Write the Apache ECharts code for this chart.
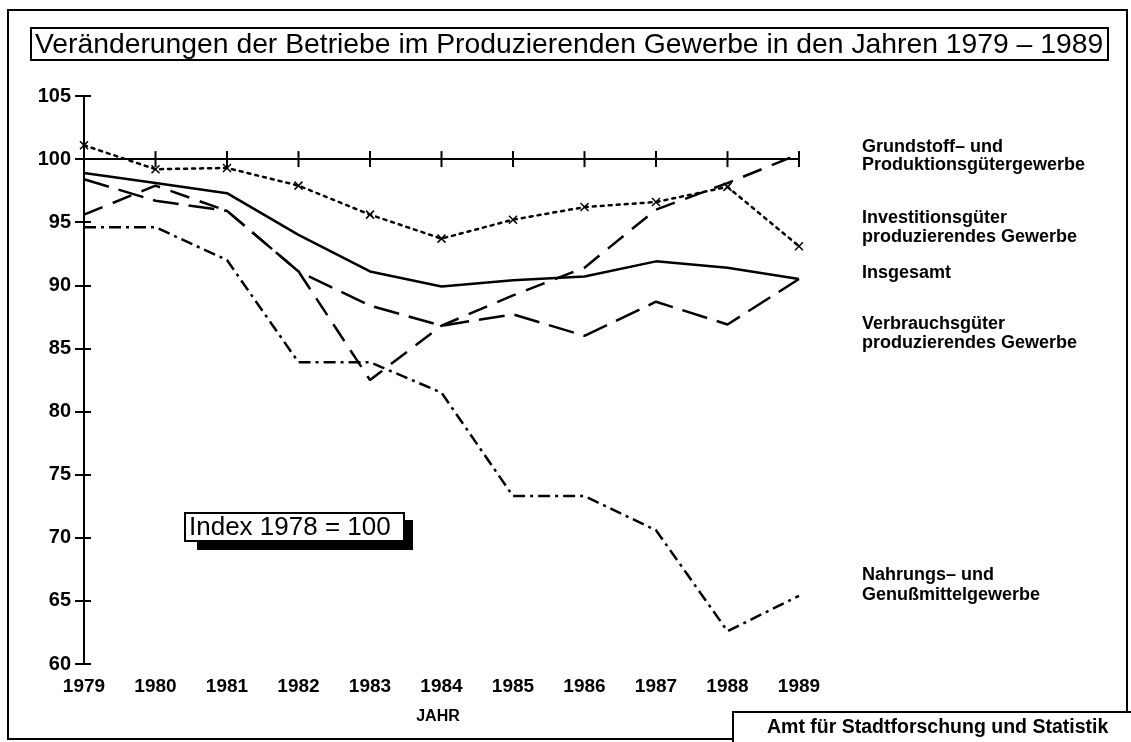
<!DOCTYPE html>
<html>
<head>
<meta charset="utf-8">
<script src="https://cdn.jsdelivr.net/npm/echarts@6/dist/echarts.min.js"></script>
<style>
html,body{margin:0;padding:0;background:#fff;}
#chart{width:1131px;height:742px;}
</style>
</head>
<body>
<div id="chart"></div>
<script>
const years = ['1979','1980','1981','1982','1983','1984','1985','1986','1987','1988','1989'];
const yTicks = { min: 60, max: 105, step: 5 };
const baseline    = [100, 100, 100, 100, 100, 100, 100, 100, 100, 100, 100];
const grundstoff  = [95.6, 97.9, 95.9, 91.1, 82.5, 86.8, 89.2, 91.4, 96.0, 98.1, 100.4];
const investition = [101.1, 99.2, 99.3, 97.9, 95.6, 93.7, 95.2, 96.2, 96.6, 97.8, 93.1];
const insgesamt   = [98.9, 98.1, 97.3, 94.0, 91.1, 89.9, 90.4, 90.7, 91.9, 91.4, 90.5];
const verbrauch   = [98.4, 96.7, 95.9, 91.1, 88.4, 86.8, 87.7, 86.0, 88.7, 86.9, 90.5];
const nahrung     = [94.6, 94.6, 92.0, 83.9, 83.9, 81.5, 73.3, 73.3, 70.6, 62.6, 65.4];

const titleText = 'Veränderungen der Betriebe im Produzierenden Gewerbe in den Jahren 1979 – 1989';
const seriesLabels = [
  ['Grundstoff– und', 147], ['Produktionsgütergewerbe', 165],
  ['Investitionsgüter', 218], ['produzierendes Gewerbe', 237],
  ['Insgesamt', 273],
  ['Verbrauchsgüter', 324], ['produzierendes Gewerbe', 343],
  ['Nahrungs– und', 575], ['Genußmittelgewerbe', 595]
];

const chart = echarts.init(document.getElementById('chart'), null, {renderer: 'canvas'});
const F = 'Liberation Sans, Arial, sans-serif';

const graphics = [
  {type:'rect', shape:{x:8, y:10, width:1119, height:729}, style:{fill:'none', stroke:'#000', lineWidth:2}, z:0},
  {type:'rect', shape:{x:31, y:28, width:1077, height:32}, style:{fill:'#fff', stroke:'#000', lineWidth:2}, z:10},
  {type:'text', style:{text:titleText, x:35, y:45, font:'28.3px ' + F, fill:'#000', textAlign:'left', textVerticalAlign:'middle'}, z:11},
  {type:'rect', shape:{x:197, y:520, width:216, height:30}, style:{fill:'#000'}, z:10},
  {type:'rect', shape:{x:185, y:513, width:219, height:28}, style:{fill:'#fff', stroke:'#000', lineWidth:2}, z:11},
  {type:'text', style:{text:'Index 1978 = 100', x:189, y:528, font:'26px ' + F, fill:'#000', textAlign:'left', textVerticalAlign:'middle'}, z:12},
  {type:'text', style:{text:'JAHR', x:438, y:717, font:'bold 16px ' + F, fill:'#000', textAlign:'center', textVerticalAlign:'middle'}, z:11},
  {type:'rect', shape:{x:733, y:712, width:400, height:32}, style:{fill:'#fff', stroke:'#000', lineWidth:2}, z:10},
  {type:'text', style:{text:'Amt für Stadtforschung und Statistik', x:767, y:728, font:'bold 19.5px ' + F, fill:'#000', textAlign:'left', textVerticalAlign:'middle'}, z:11}
];
seriesLabels.forEach(function(l){
  graphics.push({type:'text', style:{text:l[0], x:862, y:l[1], font:'bold 18px ' + F, fill:'#000', textAlign:'left', textVerticalAlign:'middle'}, z:11});
});

const xMark = 'path://M0,0L10,10M10,0L0,10';

chart.setOption({
  animation: false,
  backgroundColor: '#fff',
  grid: {left: 84, right: 332, top: 96, bottom: 78},
  xAxis: {
    type: 'category', data: years, boundaryGap: false,
    axisLine: {show: false}, axisTick: {show: false}, splitLine: {show: false},
    axisLabel: {margin: 13, fontFamily: F, fontWeight: 'bold', fontSize: 19, color: '#000'}
  },
  yAxis: [{
    type: 'value', min: yTicks.min, max: yTicks.max, interval: yTicks.step,
    axisLine: {show: true, lineStyle: {color: '#000', width: 2}},
    axisTick: {show: true, length: 9, lineStyle: {color: '#000', width: 2}},
    splitLine: {show: false},
    axisLabel: {margin: 13, fontFamily: F, fontWeight: 'bold', fontSize: 20, color: '#000'}
  }, {
    type: 'value', position: 'left', min: yTicks.min, max: yTicks.max, interval: yTicks.step,
    axisLine: {show: false},
    axisTick: {show: true, inside: true, length: 7, lineStyle: {color: '#000', width: 2}},
    splitLine: {show: false}, axisLabel: {show: false}
  }],
  series: [
    {name:'Basis', type:'line', data: baseline, symbol:'rect', symbolSize:[2,16], showSymbol:true,
     itemStyle:{color:'#000'}, lineStyle:{color:'#000', width:2}},
    {name:'Grundstoff', type:'line', data: grundstoff, showSymbol:false, symbol:'none',
     lineStyle:{color:'#000', width:2.5, type:[20, 11]}},
    {name:'Investition', type:'line', data: investition, symbol: xMark, symbolSize: 8, showSymbol:true,
     itemStyle:{color:'none', borderColor:'#000', borderWidth:1.5},
     lineStyle:{color:'#000', width:2.5, type:[3, 5], cap:'round'}},
    {name:'Insgesamt', type:'line', data: insgesamt, symbol:'none',
     lineStyle:{color:'#000', width:2.5}},
    {name:'Verbrauch', type:'line', data: verbrauch, symbol:'none',
     lineStyle:{color:'#000', width:2.5, type:[26, 10]}},
    {name:'Nahrung', type:'line', data: nahrung, symbol:'none',
     lineStyle:{color:'#000', width:2.5, type:[12, 5, 3, 5]}}
  ],
  graphic: graphics
});
</script>
</body>
</html>
